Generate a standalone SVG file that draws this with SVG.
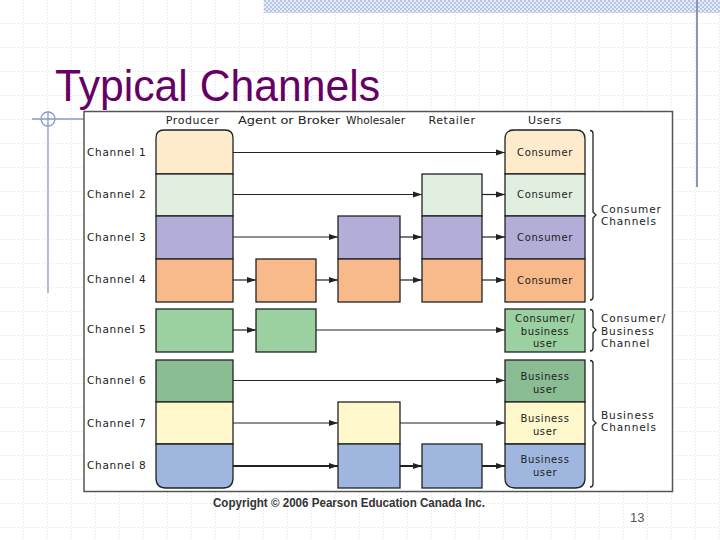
<svg xmlns="http://www.w3.org/2000/svg" width="720" height="540" viewBox="0 0 720 540">
<defs>
<pattern id="grid" width="24" height="24" patternUnits="userSpaceOnUse">
<path d="M24,0 V24 M0,24 H24" fill="none" stroke="#c4c4c4" stroke-width="1" stroke-dasharray="1,2"/>
</pattern>
<pattern id="hatch" width="4" height="4" patternUnits="userSpaceOnUse">
<rect width="4" height="4" fill="#e4eaf6"/>
<rect width="2" height="2" fill="#b8c6e6"/>
<rect x="2" y="2" width="2" height="2" fill="#b8c6e6"/>
</pattern>
<marker id="arr" markerWidth="10" markerHeight="8" refX="9" refY="4" orient="auto" markerUnits="userSpaceOnUse">
<path d="M0,1 L9,4 L0,7 Z" fill="#222"/>
</marker>
</defs>
<style>
.box{stroke:#222;stroke-width:1.3}
.lbl{font-family:"DejaVu Sans",Verdana,sans-serif;font-size:10.5px;fill:#222;letter-spacing:0.7px}
.hdr{font-family:"DejaVu Sans",Verdana,sans-serif;font-size:11px;fill:#222;letter-spacing:0.6px}
.hdr2{font-family:"DejaVu Sans",Verdana,sans-serif;font-size:11px;fill:#222}
.usr{font-family:"DejaVu Sans",Verdana,sans-serif;font-size:10px;fill:#222;text-anchor:middle;letter-spacing:0.6px}
.side{font-family:"DejaVu Sans",Verdana,sans-serif;font-size:10.5px;fill:#222;letter-spacing:0.9px}
.con{fill:none;stroke:#222;stroke-width:1.2;marker-end:url(#arr)}
.brk{fill:none;stroke:#222;stroke-width:1.3}
.c1{fill:#fdebcb}.c2{fill:#e0efdf}.c3{fill:#b3aed8}.c4{fill:#f8ba8a}
.c5{fill:#9bd0a0}.c6{fill:#8bbd94}.c7{fill:#fff8cc}.c8{fill:#9fb7de}
</style>
<rect width="720" height="540" fill="#ffffff"/>
<rect width="720" height="540" fill="url(#grid)"/>
<rect x="264" y="0" width="456" height="13" fill="url(#hatch)"/>
<line x1="697" y1="0" x2="697" y2="187" stroke="#8a96b8" stroke-width="2"/>
<g id="crosshair" stroke="#8899cc" stroke-width="1.3" fill="none">
<circle cx="48" cy="119" r="7"/>
<line x1="32" y1="119" x2="85" y2="119"/>
<line x1="48" y1="111" x2="48" y2="293"/>
</g>
<text x="55" y="101" font-family="'Liberation Sans',Arial,sans-serif" font-size="45" fill="#660066" textLength="325" lengthAdjust="spacingAndGlyphs">Typical Channels</text>
<rect x="84" y="111.5" width="588.5" height="380" fill="#ffffff" stroke="#555" stroke-width="1.5"/>
<g id="headers">
<text class="hdr" x="192.5" y="124" text-anchor="middle">Producer</text>
<text class="hdr2" x="238" y="124" textLength="102" lengthAdjust="spacingAndGlyphs">Agent or Broker</text>
<text class="hdr2" x="346" y="124" textLength="59" lengthAdjust="spacingAndGlyphs">Wholesaler</text>
<text class="hdr" x="452" y="124" text-anchor="middle">Retailer</text>
<text class="hdr" x="545" y="124" text-anchor="middle">Users</text>
</g>
<g id="channel-labels">
<text class="lbl" x="87" y="156">Channel 1</text>
<text class="lbl" x="87" y="198">Channel 2</text>
<text class="lbl" x="87" y="241">Channel 3</text>
<text class="lbl" x="87" y="283">Channel 4</text>
<text class="lbl" x="87" y="333">Channel 5</text>
<text class="lbl" x="87" y="384">Channel 6</text>
<text class="lbl" x="87" y="427">Channel 7</text>
<text class="lbl" x="87" y="469">Channel 8</text>
</g>
<g id="producer">
<path class="box c1" d="M156,174 V138 Q156,130 164,130 H225 Q233,130 233,138 V174 Z"/>
<rect class="box c2" x="156" y="174" width="77" height="42"/>
<rect class="box c3" x="156" y="216" width="77" height="43"/>
<rect class="box c4" x="156" y="259" width="77" height="43"/>
<rect class="box c5" x="156" y="309" width="77" height="43"/>
<rect class="box c6" x="156" y="360" width="77" height="42"/>
<rect class="box c7" x="156" y="402" width="77" height="42"/>
<path class="box c8" d="M156,444 H233 V478 Q233,488 223,488 H166 Q156,488 156,478 Z"/>
</g>
<g id="agent">
<rect class="box c4" x="256" y="259" width="60" height="43"/>
<rect class="box c5" x="256" y="309" width="60" height="43"/>
</g>
<g id="wholesaler">
<rect class="box c3" x="338" y="216" width="62" height="43"/>
<rect class="box c4" x="338" y="259" width="62" height="43"/>
<rect class="box c7" x="338" y="402" width="62" height="42"/>
<rect class="box c8" x="338" y="444" width="62" height="44"/>
</g>
<g id="retailer">
<rect class="box c2" x="422" y="174" width="60" height="42"/>
<rect class="box c3" x="422" y="216" width="60" height="43"/>
<rect class="box c4" x="422" y="259" width="60" height="43"/>
<rect class="box c8" x="422" y="444" width="60" height="44"/>
</g>
<g id="users">
<path class="box c1" d="M505,174 V139 Q505,130 514,130 H576 Q585,130 585,139 V174 Z"/>
<rect class="box c2" x="505" y="174" width="80" height="42"/>
<rect class="box c3" x="505" y="216" width="80" height="43"/>
<rect class="box c4" x="505" y="259" width="80" height="43"/>
<rect class="box c5" x="505" y="309" width="80" height="43"/>
<rect class="box c6" x="505" y="360" width="80" height="42"/>
<rect class="box c7" x="505" y="402" width="80" height="42"/>
<path class="box c8" d="M505,444 H585 V478 Q585,488 575,488 H515 Q505,488 505,478 Z"/>
<text class="usr" x="545" y="156">Consumer</text>
<text class="usr" x="545" y="198">Consumer</text>
<text class="usr" x="545" y="241">Consumer</text>
<text class="usr" x="545" y="284">Consumer</text>
<text class="usr" x="545" y="322">Consumer/</text>
<text class="usr" x="545" y="334.5">business</text>
<text class="usr" x="545" y="347">user</text>
<text class="usr" x="545" y="379.5">Business</text>
<text class="usr" x="545" y="392.5">user</text>
<text class="usr" x="545" y="422">Business</text>
<text class="usr" x="545" y="435">user</text>
<text class="usr" x="545" y="463">Business</text>
<text class="usr" x="545" y="475.5">user</text>
</g>
<g id="connectors">
<line class="con" x1="233" y1="152.5" x2="505" y2="152.5"/>
<line class="con" x1="233" y1="194.5" x2="422" y2="194.5"/>
<line class="con" x1="482" y1="194.5" x2="505" y2="194.5"/>
<line class="con" x1="233" y1="237" x2="338" y2="237"/>
<line class="con" x1="400" y1="237" x2="422" y2="237"/>
<line class="con" x1="482" y1="237" x2="505" y2="237"/>
<line class="con" x1="233" y1="280" x2="256" y2="280"/>
<line class="con" x1="316" y1="280" x2="338" y2="280"/>
<line class="con" x1="400" y1="280" x2="422" y2="280"/>
<line class="con" x1="482" y1="280" x2="505" y2="280"/>
<line class="con" x1="233" y1="330" x2="256" y2="330"/>
<line class="con" x1="316" y1="330" x2="505" y2="330"/>
<line class="con" x1="233" y1="380.5" x2="505" y2="380.5"/>
<line class="con" x1="233" y1="423" x2="338" y2="423"/>
<line class="con" x1="400" y1="423" x2="505" y2="423"/>
<line class="con" x1="233" y1="466" x2="338" y2="466" style="stroke-width:2"/>
<line class="con" x1="400" y1="466" x2="422" y2="466" style="stroke-width:2"/>
<line class="con" x1="482" y1="466" x2="505" y2="466" style="stroke-width:2"/>
</g>
<g id="consumer-channels">
<path class="brk" d="M590,130.5 Q593,130.5 593,133.5 V212 L596,215 L593,218 V297 Q593,300 590,300"/>
<text class="side" x="601" y="213">Consumer</text>
<text class="side" x="601" y="225">Channels</text>
</g>
<g id="consumer-business-channel">
<path class="brk" d="M590,309.5 Q593,309.5 593,312.5 V327 L596,330 L593,333 V348 Q593,351 590,351"/>
<text class="side" x="601" y="322">Consumer/</text>
<text class="side" x="601" y="335">Business</text>
<text class="side" x="601" y="347">Channel</text>
</g>
<g id="business-channels">
<path class="brk" d="M590,360.5 Q593,360.5 593,363.5 V420 L596,423 L593,426 V484 Q593,487 590,487"/>
<text class="side" x="601" y="419">Business</text>
<text class="side" x="601" y="431">Channels</text>
</g>
<text x="213" y="507" font-family="'Liberation Sans',Arial,sans-serif" font-size="12" font-weight="bold" fill="#333" textLength="272" lengthAdjust="spacingAndGlyphs">Copyright © 2006 Pearson Education Canada Inc.</text>
<text x="630" y="522" font-family="'Liberation Sans',Arial,sans-serif" font-size="13" fill="#555">13</text>
</svg>
